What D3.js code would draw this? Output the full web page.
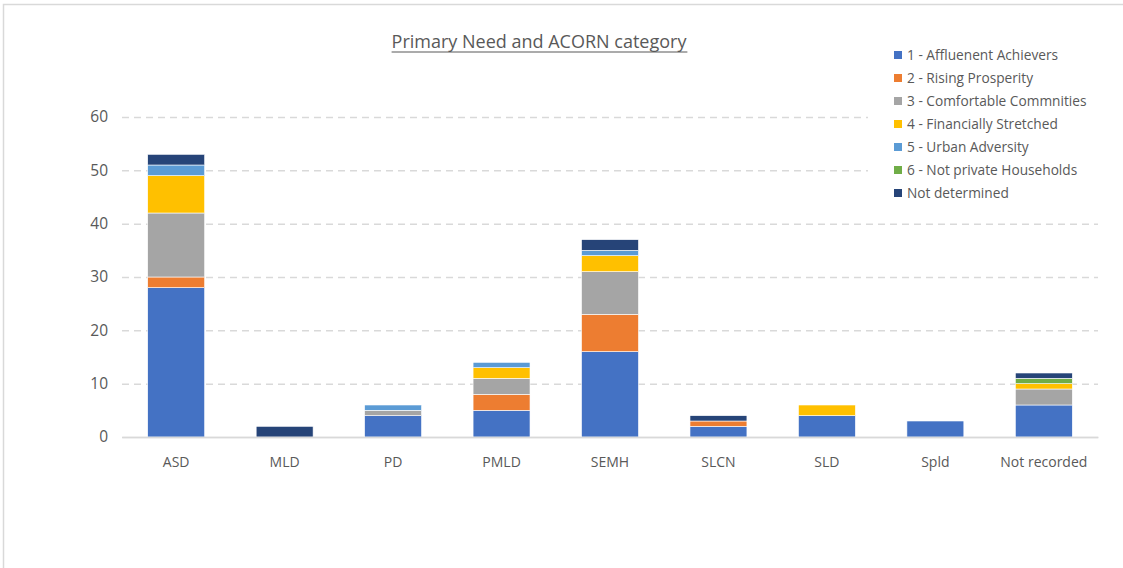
<!DOCTYPE html>
<html>
<head>
<meta charset="utf-8">
<script src="https://cdn.jsdelivr.net/npm/d3@7"></script>
<style>
	html, body { margin: 0; padding: 0; background: #fff; }
	svg text { font-family: "Open Sans", "Liberation Sans", sans-serif; fill: #595959; }
</style>
</head>
<body>
<div id="chart"></div>
<script>
// categories and series
const needs = ['ASD', 'MLD', 'PD', 'PMLD', 'SEMH', 'SLCN', 'SLD', 'Spld', 'Not recorded'];
const acorn = ['1 - Affluenent Achievers', '2 - Rising Prosperity', '3 - Comfortable Commnities',
	'4 - Financially Stretched', '5 - Urban Adversity', '6 - Not private Households', 'Not determined'];
const affluent     = [28, 0, 4, 5, 16, 2, 4, 3, 6];
const rising       = [2, 0, 0, 3, 7, 1, 0, 0, 0];
const comfortable  = [12, 0, 1, 3, 8, 0, 0, 0, 3];
const stretched    = [7, 0, 0, 2, 3, 0, 2, 0, 1];
const urban        = [2, 0, 1, 1, 1, 0, 0, 0, 0];
const notPrivate   = [0, 0, 0, 0, 0, 0, 0, 0, 1];
const notDetermined = [2, 2, 0, 0, 2, 1, 0, 0, 1];
const yTicks = [0, 10, 20, 30, 40, 50, 60];
const colors = ['#4472c4', '#ed7d31', '#a5a5a5', '#ffc000', '#5b9bd5', '#70ad47', '#264478'];

const seriesValues = [affluent, rising, comfortable, stretched, urban, notPrivate, notDetermined];

const W = 1123, H = 568;
const m = {top: 117, right: 25, bottom: 131, left: 122};

const svg = d3.select('#chart').append('svg')
	.attr('width', W)
	.attr('height', H);

// frame of the chart area
svg.append('path')
	.attr('d', `M3.5,${H} V4.5 H${W}`)
	.attr('fill', 'none')
	.attr('stroke', '#d9d9d9')
	.attr('stroke-width', 1.5);

// table for the stack
const table = needs.map((n, i) => {
	const row = {need: n};
	acorn.forEach((a, k) => row[a] = seriesValues[k][i]);
	return row;
});
const stacked = d3.stack().keys(acorn)(table);

const x = d3.scaleBand().domain(needs).range([m.left, W - m.right]).paddingInner(0.475).paddingOuter(0.237);
const y = d3.scaleLinear().domain([0, 60]).range([H - m.bottom, m.top]);

// grid lines
const yAxis = d3.axisLeft(y).tickValues(yTicks).tickSize(-(W - m.right - m.left)).tickPadding(14);
const gy = svg.append('g')
	.attr('transform', `translate(${m.left},0)`)
	.call(yAxis);
gy.select('.domain').remove();
gy.selectAll('.tick line')
	.attr('stroke', '#d9d9d9')
	.attr('stroke-width', 1.5)
	.attr('stroke-dasharray', d => d === 0 ? null : '7,5');
gy.selectAll('.tick text')
	.attr('font-size', 15.5)
	.style('fill', '#595959');

// bars
svg.append('g')
	.selectAll('g')
	.data(stacked)
	.enter()
	.append('g')
	.attr('fill', (d, i) => colors[i])
	.selectAll('rect')
	.data(d => d.filter(s => s[1] > s[0]))
	.enter()
	.append('rect')
	.attr('x', d => x(d.data.need))
	.attr('width', x.bandwidth())
	.attr('y', d => y(d[1]))
	.attr('height', d => y(d[0]) - y(d[1]))
	.attr('stroke', '#fff')
	.attr('stroke-width', 0.6);

// x axis
const gx = svg.append('g')
	.attr('transform', `translate(0,${y(0)})`)
	.call(d3.axisBottom(x).tickSize(0).tickPadding(20));
gx.select('.domain').attr('stroke', '#d9d9d9').attr('stroke-width', 1.5);
gx.selectAll('.tick text')
	.attr('font-size', 14)
	.style('fill', '#595959');

// title
const title = svg.append('text')
	.attr('x', 539)
	.attr('y', 48)
	.attr('text-anchor', 'middle')
	.attr('font-size', 18)
	.text('Primary Need and ACORN category');
const bb = title.node().getBBox();
svg.append('line')
	.attr('x1', bb.x).attr('x2', bb.x + bb.width)
	.attr('y1', 52).attr('y2', 52)
	.attr('stroke', '#595959')
	.attr('stroke-width', 1.2);

// legend
const lg = svg.append('g').attr('transform', 'translate(868,40)');
lg.append('rect')
	.attr('width', 235).attr('height', 170)
	.attr('fill', '#fff');
const items = lg.selectAll('g.item')
	.data(acorn)
	.enter()
	.append('g')
	.attr('class', 'item')
	.attr('transform', (d, i) => `translate(26,${15 + i * 23})`);
items.append('rect')
	.attr('y', -4)
	.attr('width', 8).attr('height', 8)
	.attr('fill', (d, i) => colors[i]);
items.append('text')
	.attr('x', 13)
	.attr('dy', '0.35em')
	.attr('font-size', 13.7)
	.text(d => d);
</script>
</body>
</html>
